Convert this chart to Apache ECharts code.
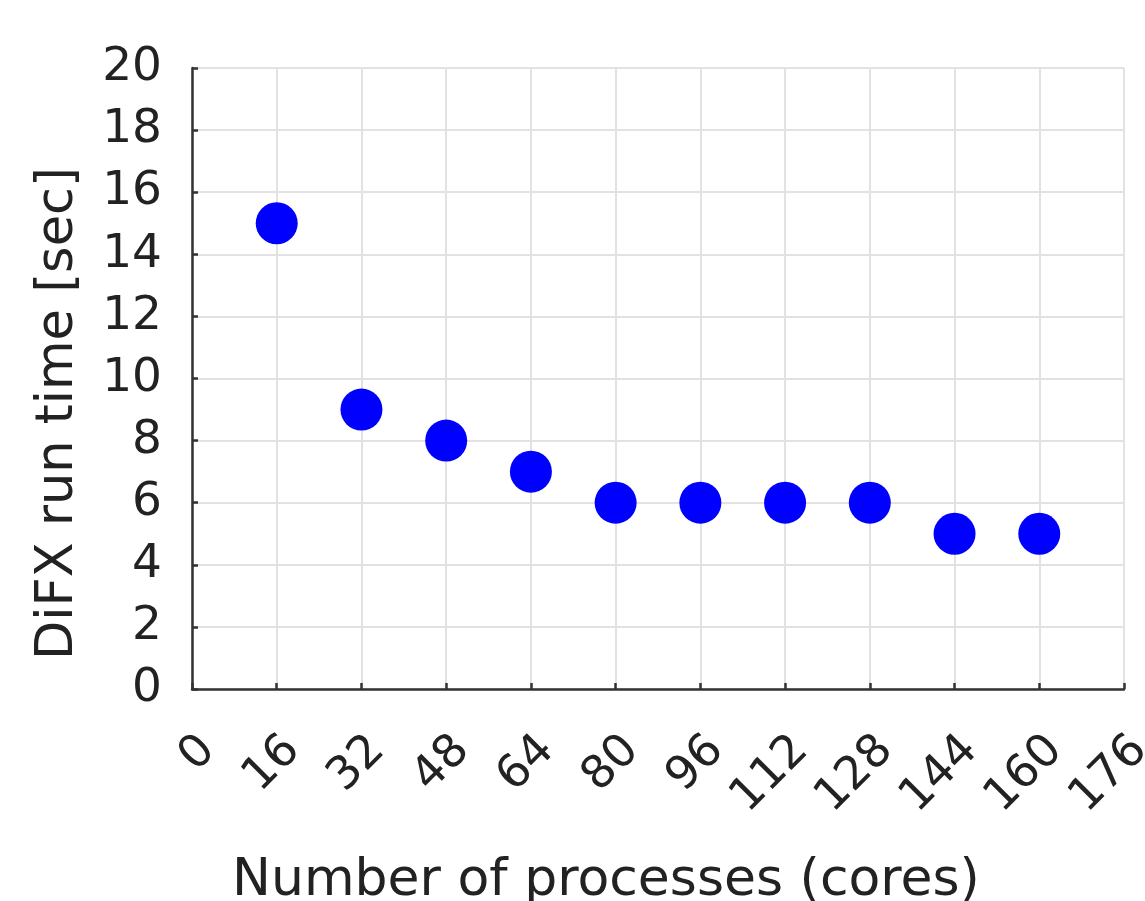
<!DOCTYPE html>
<html>
<head>
<meta charset="utf-8">
<script src="https://cdn.jsdelivr.net/npm/echarts@6/dist/echarts.min.js"></script>
<style>html,body{margin:0;padding:0;background:#fff}#c{width:1145px;height:901px}</style>
</head>
<body>
<div id="c"></div>
<script>
const processes = [16, 32, 48, 64, 80, 96, 112, 128, 144, 160];
const runTime = [15, 9, 8, 7, 6, 6, 6, 6, 5, 5];
const xTicks = [0, 16, 32, 48, 64, 80, 96, 112, 128, 144, 160, 176];
const yTicks = [0, 2, 4, 6, 8, 10, 12, 14, 16, 18, 20];
const xTitle = 'Number of processes (cores)';
const yTitle = 'DiFX run time [sec]';

const font = 'DejaVu Sans, Liberation Sans, Arial, sans-serif';
const chart = echarts.init(document.getElementById('c'), null, {renderer: 'canvas'});
chart.setOption({
  backgroundColor: '#fff',
  animation: false,
  grid: {left: 192, right: 21, top: 68, bottom: 212, containLabel: false, outerBoundsMode: 'none'},
  xAxis: {
    type: 'value', min: xTicks[0], max: xTicks[xTicks.length - 1], interval: 16,
    name: xTitle, nameLocation: 'middle', nameGap: 166,
    nameTextStyle: {fontFamily: font, fontSize: 52, color: '#222', padding: [0, 104, 0, 0]},
    axisLine: {show: true, onZero: false, lineStyle: {color: '#333', width: 2.5}},
    axisTick: {show: true, inside: true, length: 6, lineStyle: {color: '#333', width: 2.5}},
    axisLabel: {rotate: 45, margin: 38, verticalAlign: 'top', fontFamily: font, fontSize: 46, color: '#222'},
    splitLine: {show: true, lineStyle: {color: '#e2e2e2', width: 2}}
  },
  yAxis: {
    type: 'value', min: yTicks[0], max: yTicks[yTicks.length - 1], interval: 2,
    name: yTitle, nameLocation: 'middle', nameGap: 108,
    nameTextStyle: {fontFamily: font, fontSize: 51, color: '#222', padding: [0, 70, 0, 0]},
    axisLine: {show: true, onZero: false, lineStyle: {color: '#333', width: 2.5}},
    axisTick: {show: true, inside: true, length: 6, lineStyle: {color: '#333', width: 2.5}},
    axisLabel: {margin: 30, fontFamily: font, fontSize: 47, color: '#222'},
    splitLine: {show: true, lineStyle: {color: '#e2e2e2', width: 2}}
  },
  series: [{
    type: 'scatter',
    data: processes.map((p, i) => [p, runTime[i]]),
    symbol: 'circle', symbolSize: 42,
    itemStyle: {color: '#0000ff', opacity: 1}
  }]
});
</script>
</body>
</html>
